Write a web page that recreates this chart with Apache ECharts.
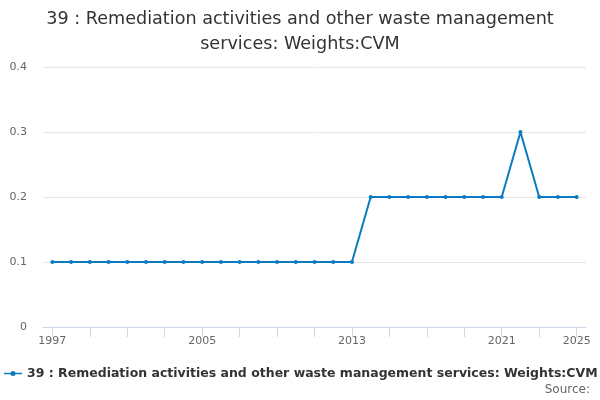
<!DOCTYPE html>
<html><head><meta charset="utf-8">
<script src="https://cdn.jsdelivr.net/npm/echarts@6/dist/echarts.min.js"></script>
<style>html,body{margin:0;padding:0;background:#fff}#c{width:600px;height:400px}</style>
</head><body><div id="c"></div>
<script>
var seriesName = '39 : Remediation activities and other waste management services: Weights:CVM';
var years = ['1997','1998','1999','2000','2001','2002','2003','2004','2005','2006','2007','2008','2009','2010','2011','2012','2013','2014','2015','2016','2017','2018','2019','2020','2021','2022','2023','2024','2025'];
var values = [0.1,0.1,0.1,0.1,0.1,0.1,0.1,0.1,0.1,0.1,0.1,0.1,0.1,0.1,0.1,0.1,0.1,0.2,0.2,0.2,0.2,0.2,0.2,0.2,0.2,0.3,0.2,0.2,0.2];
var shownLabels = ['1997','2005','2013','2021','2025'];
var yTicks = [0, 0.1, 0.2, 0.3, 0.4];

var font = 'DejaVu Sans';
var chart = echarts.init(document.getElementById('c'), null, {renderer:'canvas'});
chart.setOption({
  animation:false,
  title:{text:'39 : Remediation activities and other waste management\nservices: Weights:CVM', left:'center', top:2,
    textStyle:{fontFamily:font, fontSize:17.6, fontWeight:'normal', color:'#333', lineHeight:25}},
  grid:{left:43, right:14, top:67, bottom:73},
  legend:{show:true, left:4, top:367, padding:0, itemWidth:18, itemHeight:5, itemGap:5,
    textStyle:{fontFamily:font, fontSize:12.5, fontWeight:'bold', color:'#333'},
    data:[{name:seriesName, icon:'path://M0,2 L18,2 L18,3.6 L0,3.6 Z M6.5,2.8 a2.5,2.5 0 1,1 5,0 a2.5,2.5 0 1,1 -5,0 Z'}]},
  graphic:[{type:'text', right:10, top:384, style:{text:'Source:', font:'12px DejaVu Sans', fill:'#666'}}],
  xAxis:{type:'category', data:years, boundaryGap:true,
    axisLine:{lineStyle:{color:'#ccd6eb'}},
    axisTick:{show:true, alignWithLabel:true, interval:1, length:10, lineStyle:{color:'#ccd6eb'}},
    axisLabel:{fontFamily:font, fontSize:11, color:'#666', margin:9,
      interval:function(i,v){return shownLabels.indexOf(v)>=0;}},
    splitLine:{show:false}},
  yAxis:{type:'value', min:yTicks[0], max:yTicks[yTicks.length-1], interval:0.1,
    axisLine:{show:false}, axisTick:{show:false},
    axisLabel:{fontFamily:font, fontSize:11, color:'#666', margin:16},
    splitLine:{lineStyle:{color:'#e6e6e6'}}},
  series:[{name:seriesName, type:'line', data:values, color:'#0a7bc1',
    symbol:'circle', symbolSize:4, showSymbol:true,
    lineStyle:{width:2}, itemStyle:{color:'#0a7bc1'}}]
});
</script></body></html>
